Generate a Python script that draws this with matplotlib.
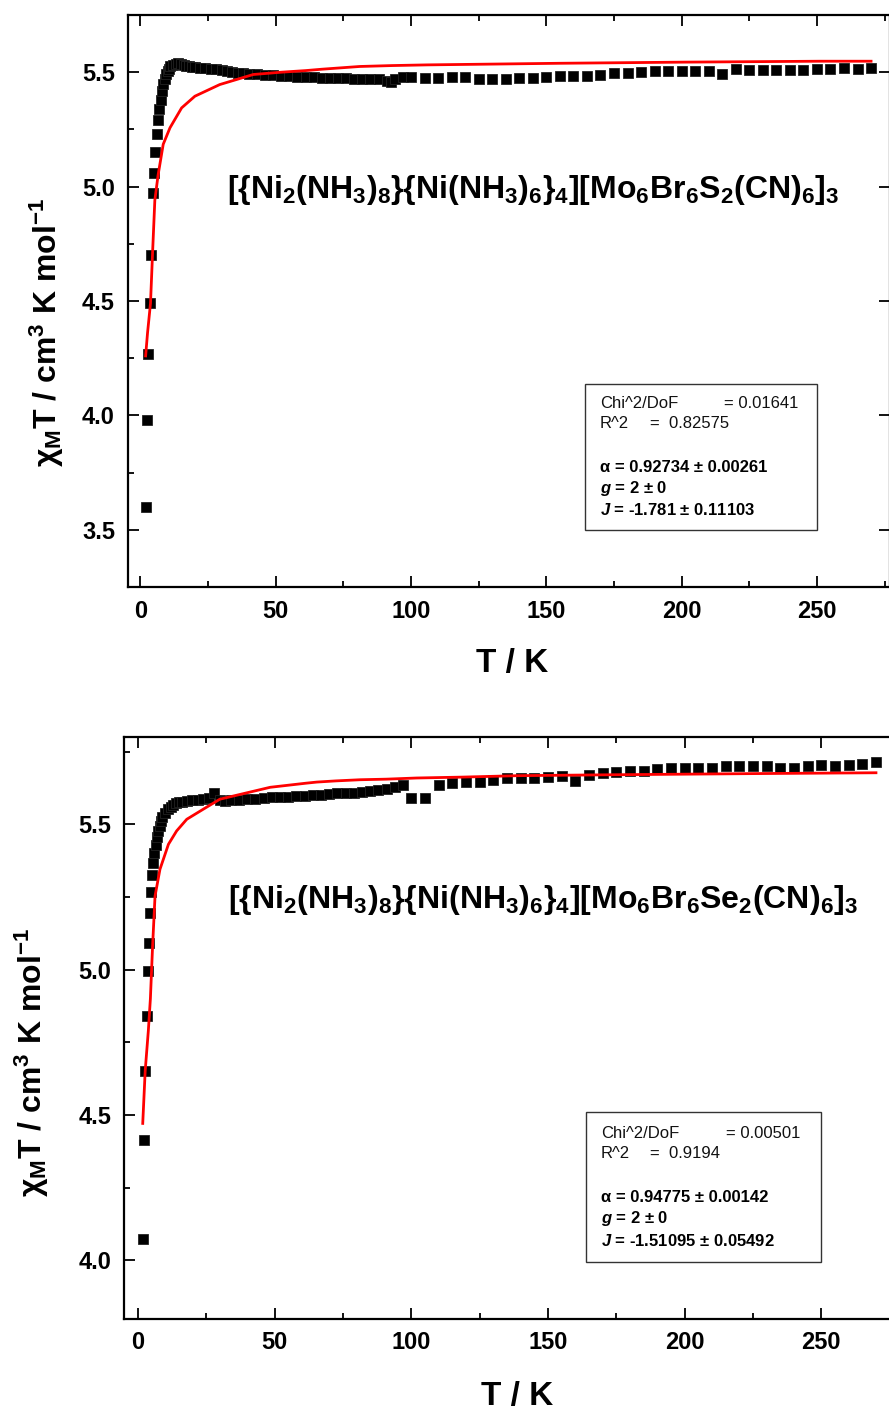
import matplotlib
matplotlib.use("Agg")
import matplotlib.pyplot as plt
from matplotlib.patches import Rectangle
from matplotlib.ticker import MultipleLocator

plt.rcParams['font.family'] = ['Liberation Sans', 'DejaVu Sans']
plt.rcParams['mathtext.fontset'] = 'custom'
plt.rcParams['mathtext.rm'] = 'Liberation Sans:bold'
plt.rcParams['mathtext.it'] = 'Liberation Sans:italic:bold'
plt.rcParams['mathtext.bf'] = 'Liberation Sans:bold'
plt.rcParams['mathtext.bfit'] = 'Liberation Sans:italic:bold'

# --- top panel: S compound, measured chi_M*T ---
t_s = [2.0, 2.4, 2.9, 3.5, 4.0, 4.6, 5.0, 5.5, 6.0, 6.5, 7.0, 7.5, 8.0, 8.5, 9.0, 9.5,
       10, 10.5, 11, 12, 13, 14, 15, 16, 17, 18, 19, 20, 22, 24, 26, 28, 30, 32, 34,
       36, 38, 40, 43, 46, 49, 52, 55, 58, 61, 64, 67, 70, 73, 76, 79, 82, 85, 88,
       91, 92.5, 94, 97,
       100, 105, 110, 115, 120, 125, 130, 135, 140, 145, 150, 155, 160, 165, 170,
       175, 180, 185, 190, 195, 200, 205, 210, 215, 220, 225, 230, 235, 240, 245,
       250, 255, 260, 265, 270]
chi_s = [3.60, 3.98, 4.27, 4.49, 4.70, 4.97, 5.06, 5.15, 5.23, 5.29, 5.34, 5.38, 5.42,
         5.45, 5.47, 5.49, 5.505, 5.515, 5.525, 5.533, 5.538, 5.54, 5.537, 5.532,
         5.527, 5.525, 5.523, 5.522, 5.52, 5.518, 5.515, 5.512, 5.508, 5.505, 5.502,
         5.498, 5.495, 5.493, 5.49, 5.488, 5.486, 5.484, 5.482, 5.48, 5.478, 5.477,
         5.476, 5.475, 5.474, 5.473, 5.472, 5.471, 5.47, 5.47, 5.462, 5.455, 5.47,
         5.478,
         5.478, 5.475, 5.475, 5.478, 5.480, 5.471, 5.471, 5.472, 5.475, 5.475, 5.480,
         5.483, 5.485, 5.485, 5.488, 5.496, 5.497, 5.501, 5.506, 5.506, 5.507, 5.507,
         5.504, 5.493, 5.516, 5.510, 5.509, 5.509, 5.510, 5.510, 5.513, 5.515, 5.517,
         5.516, 5.519]
# fitted curve, top panel
tfit_s = [1.9, 2.6, 3.7, 4.5, 5.3, 6.5, 8.4, 10.9, 15.2, 20.1, 29.3, 41.7, 52, 61, 67,
          74, 81, 93, 106, 127, 155, 201, 251, 270]
fit_s = [4.26, 4.36, 4.49, 4.72, 4.94, 5.05, 5.185, 5.257, 5.344, 5.395, 5.446, 5.49,
         5.50, 5.507, 5.513, 5.519, 5.525, 5.529, 5.532, 5.535, 5.539, 5.544, 5.548,
         5.548]

# --- bottom panel: Se compound ---
t_se = [2.0, 2.3, 2.65, 3.2, 3.6, 4.0, 4.3, 4.7, 5.2, 5.6, 6.0, 6.5, 7.0, 7.5, 8.0,
        8.5, 9.0, 10, 11, 12, 13, 14, 15, 16, 18, 20, 22, 24, 26, 28, 30, 32, 34, 37,
        40, 43, 46, 49, 52, 55, 58, 61, 64, 67, 70, 73, 76, 79, 82, 85, 88, 91, 94, 97,
        100, 105, 110, 115, 120, 125, 130, 135, 140, 145, 150, 155, 160, 165, 170,
        175, 180, 185, 190, 195, 200, 205, 210, 215, 220, 225, 230, 235, 240, 245,
        250, 255, 260, 265, 270]
chi_se = [4.075, 4.414, 4.652, 4.842, 4.994, 5.092, 5.195, 5.267, 5.325, 5.368, 5.40,
          5.43, 5.455, 5.475, 5.495, 5.51, 5.525, 5.54, 5.552, 5.56, 5.567, 5.572,
          5.575, 5.577, 5.58, 5.582, 5.584, 5.586, 5.59, 5.607, 5.585, 5.58, 5.582,
          5.584, 5.586, 5.588, 5.59, 5.592, 5.594, 5.595, 5.597, 5.598, 5.60, 5.602,
          5.604, 5.606, 5.607, 5.609, 5.612, 5.615, 5.618, 5.622, 5.627, 5.635,
          5.591, 5.591, 5.636, 5.641, 5.644, 5.644, 5.653, 5.658, 5.658, 5.658, 5.661,
          5.667, 5.648, 5.669, 5.676, 5.678, 5.682, 5.684, 5.690, 5.692, 5.695, 5.695,
          5.695, 5.699, 5.701, 5.701, 5.701, 5.695, 5.695, 5.699, 5.703, 5.699, 5.703,
          5.707, 5.713]
tfit_se = [1.8, 2.7, 3.85, 4.6, 5.4, 6.3, 8.1, 11.2, 14.2, 17.9, 24, 30, 48.4, 61.4,
           65.5, 72.4, 81.3, 90.9, 102, 118.4, 139, 172, 224, 270]
fit_se = [4.471, 4.652, 4.79, 4.90, 5.08, 5.253, 5.345, 5.431, 5.477, 5.517, 5.552,
          5.586, 5.627, 5.641, 5.645, 5.649, 5.653, 5.655, 5.659, 5.662, 5.667, 5.670,
          5.674, 5.677]

formula_s = r"[{Ni$_2$(NH$_3$)$_8$}{Ni(NH$_3$)$_6$}$_4$][Mo$_6$Br$_6$S$_2$(CN)$_6$]$_3$"
formula_se = r"[{Ni$_2$(NH$_3$)$_8$}{Ni(NH$_3$)$_6$}$_4$][Mo$_6$Br$_6$Se$_2$(CN)$_6$]$_3$"
ylabel = r"χ$_\mathrm{M}$T / cm$^3$ K mol$^{-1}$"

stats_s = [("Chi^2/DoF", "= 0.01641"), ("R^2", "=  0.82575")]
stats_se = [("Chi^2/DoF", "= 0.00501"), ("R^2", "=  0.9194")]
params_s = ["α = 0.92734 ± 0.00261", r"$\mathbfit{g}$ = 2 ± 0",
            r"$\mathbfit{J}$ = -1.781 ± 0.11103"]
params_se = ["α = 0.94775 ± 0.00142", r"$\mathbfit{g}$ = 2 ± 0",
             r"$\mathbfit{J}$ = -1.51095 ± 0.05492"]

W, H = 889, 1409
fig = plt.figure(figsize=(W / 100, H / 100), dpi=100)


def fx(x):
    return x / W


def fy(y):
    return 1 - y / H


def make_panel(rect, xlim, ylim, major_y):
    ax = fig.add_axes(rect)
    ax.set_xlim(*xlim)
    ax.set_ylim(*ylim)
    ax.xaxis.set_major_locator(MultipleLocator(50))
    ax.xaxis.set_minor_locator(MultipleLocator(25))
    ax.yaxis.set_major_locator(MultipleLocator(major_y))
    ax.yaxis.set_minor_locator(MultipleLocator(major_y / 2))
    ax.tick_params(which='both', direction='in', top=True, right=True, width=1.3)
    ax.tick_params(which='major', length=8, labelsize=17, pad=9)
    ax.tick_params(which='minor', length=4, right=False)
    ax.yaxis.set_major_formatter(plt.FormatStrFormatter('%.1f'))
    for lab in ax.get_xticklabels() + ax.get_yticklabels():
        lab.set_fontweight('bold')
    for sp in ax.spines.values():
        sp.set_linewidth(1.6)
    return ax


def draw(ax, t, chi, tfit, fit, formula, fpos, ylab_pos):
    ax.plot(t, chi, 's', color='black', ms=7.6, mew=0.6, mec='#222222', zorder=2)
    ax.plot(tfit, fit, '-', color='#ff0000', lw=2.0, zorder=3)
    ax.text(fx(fpos[0]), fy(fpos[1]), formula, transform=fig.transFigure,
            fontsize=23, fontweight='bold', ha='center', va='center')
    ax.set_xlabel("T / K", fontsize=24, fontweight='bold')
    ax.xaxis.set_label_coords(0.505, -0.107)
    ax.set_ylabel(ylabel, fontsize=23, fontweight='bold')
    ax.yaxis.set_label_coords(*ylab_pos)


def stats_box(box, x0, xeq, xeq2, rows_y, stats, params):
    x1, y1, x2, y2 = box
    fig.add_artist(Rectangle((fx(x1), fy(y2)), fx(x2) - fx(x1), fy(y1) - fy(y2),
                             transform=fig.transFigure, fill=False, lw=1.0,
                             ec='#333333'))
    for (lab, val), y, xe in zip(stats, rows_y[:2], [xeq, xeq2]):
        fig.text(fx(x0), fy(y), lab, fontsize=12, va='center', color='#111111')
        fig.text(fx(xe), fy(y), val, fontsize=12, va='center', color='#111111')
    for line, y in zip(params, rows_y[2:]):
        fig.text(fx(x0), fy(y), line, fontsize=12, fontweight='bold', va='center')


ax1 = make_panel([fx(127.5), fy(587), fx(890) - fx(127.5), fy(15) - fy(587)],
                 (-4.8, 277), (3.25, 5.75), 0.5)
draw(ax1, t_s, chi_s, tfit_s, fit_s, formula_s, (533, 190), (-0.08, 0.445))
stats_box((585, 384, 817, 530), 600, 724, 650, [404, 424, 467, 489, 510],
          stats_s, params_s)

ax2 = make_panel([fx(123.6), fy(1318.5), fx(903.3) - fx(123.6), fy(737) - fy(1318.5)],
                 (-5.2, 280), (3.8, 5.8), 0.5)
draw(ax2, t_se, chi_se, tfit_se, fit_se, formula_se, (543, 900), (-0.093, 0.44))
stats_box((586, 1112, 821, 1262), 601, 726, 650, [1133, 1153, 1197, 1219, 1241],
          stats_se, params_se)

fig.savefig("out.png", dpi=100)
